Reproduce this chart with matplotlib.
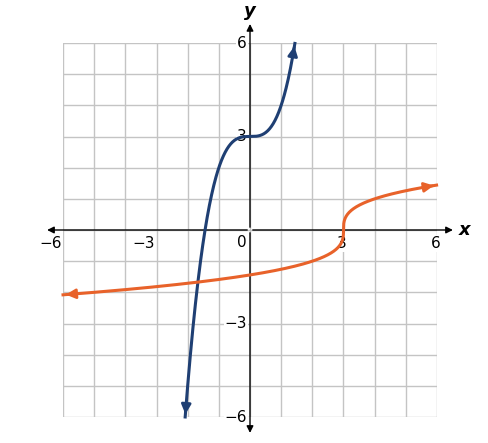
import numpy as np
import matplotlib
matplotlib.use("Agg")
import matplotlib.pyplot as plt

# f(x) = x^3 + 3 and its inverse
blue_x = np.linspace(-2.08, 1.44, 300)
orange_y = np.linspace(-2.08, 1.44, 300)
blue_y = blue_x**3 + 3
orange_x = orange_y**3 + 3
xticks = [-6, -3, 3, 6]
yticks = [-6, -3, 3, 6]

W, H = 489, 443
fig = plt.figure(figsize=(W/100, H/100), dpi=100)
ax = fig.add_axes([63/W, 26/H, 374/W, 374/H])
ax.set_xlim(-6, 6); ax.set_ylim(-6, 6)
for v in range(-6, 7):
    ax.axvline(v, color='#c4c4c4', lw=1, zorder=0)
    ax.axhline(v, color='#c4c4c4', lw=1, zorder=0)
for s in ax.spines.values(): s.set_visible(False)
ax.set_xticks([]); ax.set_yticks([])
ap = dict(arrowstyle='-|>', color='black', lw=1, mutation_scale=10)
ax.annotate('', xy=(6.6, 0), xytext=(0, 0), arrowprops=ap, annotation_clip=False)
ax.annotate('', xy=(-6.6, 0), xytext=(0, 0), arrowprops=ap, annotation_clip=False)
ax.annotate('', xy=(0, 6.7), xytext=(0, 0), arrowprops=ap, annotation_clip=False)
ax.annotate('', xy=(0, -6.6), xytext=(0, 0), arrowprops=ap, annotation_clip=False)
ax.text(6.7, 0, 'x', fontsize=13, style='italic', weight='bold', va='center', ha='left')
ax.text(0, 6.75, 'y', fontsize=13, style='italic', weight='bold', va='bottom', ha='center')
bb = dict(facecolor='white', edgecolor='none', pad=0.5)
for t in xticks:
    ax.text(t - 0.05, -0.2, f'{t}'.replace('-', '\u2212'), fontsize=11,
            ha='right' if t < 0 else 'center', va='top', bbox=bb, zorder=3)
ax.text(-0.1, -0.15, '0', fontsize=11, ha='right', va='top', bbox=bb, zorder=3)
for t in yticks:
    ax.text(-0.1, t, f'{t}'.replace('-', '\u2212'), fontsize=11, ha='right', va='center', bbox=bb, zorder=3)

bc, oc = '#1f3f73', '#e8622a'
ax.plot(blue_x, blue_y, color=bc, lw=2.2, clip_on=False, zorder=4)
ax.plot(orange_x, orange_y, color=oc, lw=2.2, clip_on=False, zorder=4)
for xs, ys, c in [(blue_x, blue_y, bc), (orange_x, orange_y, oc)]:
    ax.annotate('', xy=(xs[-1], ys[-1]), xytext=(xs[-4], ys[-4]),
                arrowprops=dict(arrowstyle='-|>', color=c, lw=2, mutation_scale=14), annotation_clip=False)
    ax.annotate('', xy=(xs[0], ys[0]), xytext=(xs[3], ys[3]),
                arrowprops=dict(arrowstyle='-|>', color=c, lw=2, mutation_scale=14), annotation_clip=False)
fig.savefig('out.png', dpi=100)
